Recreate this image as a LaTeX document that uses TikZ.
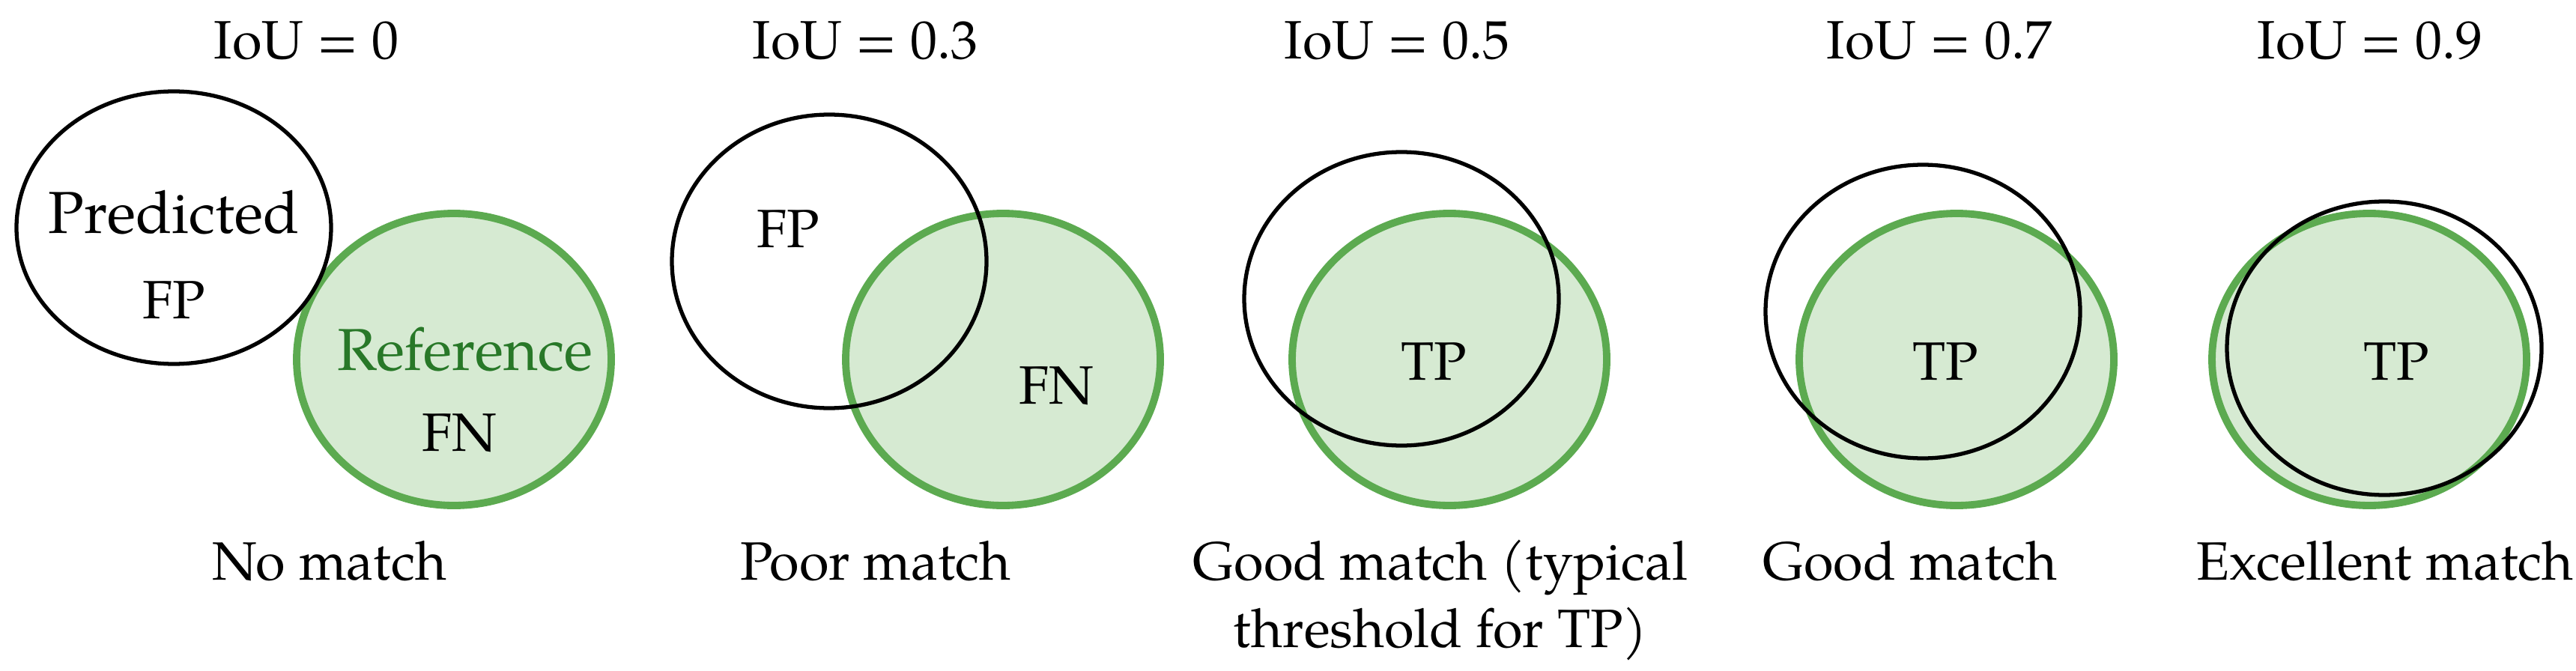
\documentclass[tikz,border=0pt]{standalone}
\usepackage{fontspec}
\setmainfont{TeX Gyre Pagella}
\usepackage{tikz}
\usetikzlibrary{shapes.geometric}
\definecolor{refgreen}{RGB}{92,170,80}
\definecolor{reffill}{RGB}{214,234,210}
\definecolor{reftext}{RGB}{40,120,40}

\begin{document}
\begin{tikzpicture}[
    lbl/.style={anchor=base, inner sep=0pt, font=\fontsize{20.5}{25.6}\selectfont},
    biglbl/.style={anchor=base, inner sep=0pt, font=\fontsize{22.5}{27}\selectfont},
    predbox/.style={draw, ellipse, line width=1.5pt, inner sep=0pt,
                    minimum width=4.2cm, minimum height=3.92cm},
    refbox/.style={draw=refgreen, fill=reffill, ellipse, line width=2.8pt, inner sep=0pt,
                   minimum width=4.2cm, minimum height=3.9cm}]
    \useasboundingbox (0,0) rectangle (34.39,-8.95);

    % IoU = 0
    \node[refbox] (ref1) at (6.06,-4.80) {};
    \node[predbox, minimum height=3.64cm] (pred1) at (2.32,-3.04) {};
    \node[lbl] (iou1) at (4.09,-0.79) {IoU = 0};
    \node[biglbl] (pname1) at (2.32,-3.11) {Predicted};
    \node[lbl] (fp1) at (2.32,-4.25) {FP};
    \node[biglbl, text=reftext] (rname1) at (6.21,-4.94) {Reference};
    \node[lbl] (fn1) at (6.13,-6.02) {FN};
    \node[lbl] (cap1) at (4.40,-7.74) {No match};

    % IoU = 0.3
    \node[refbox] (ref2) at (13.39,-4.80) {};
    \node[predbox] (pred2) at (11.07,-3.49) {};
    \node[lbl] (iou2) at (11.55,-0.79) {IoU = 0.3};
    \node[lbl] (fp2) at (10.52,-3.30) {FP};
    \node[lbl] (fn2) at (14.10,-5.39) {FN};
    \node[lbl] (cap2) at (11.69,-7.74) {Poor match};

    % IoU = 0.5
    \node[refbox] (ref3) at (19.35,-4.80) {};
    \node[predbox] (pred3) at (18.71,-3.99) {};
    \node[lbl] (iou3) at (18.65,-0.79) {IoU = 0.5};
    \node[lbl] (tp3) at (19.14,-5.07) {TP};
    \node[lbl, align=center] (cap3) at (19.23,-8.64) {Good match (typical\\threshold for TP)};

    % IoU = 0.7
    \node[refbox] (ref4) at (26.12,-4.80) {};
    \node[predbox] (pred4) at (25.67,-4.16) {};
    \node[lbl] (iou4) at (25.89,-0.79) {IoU = 0.7};
    \node[lbl] (tp4) at (25.97,-5.07) {TP};
    \node[lbl] (cap4) at (25.50,-7.74) {Good match};

    % IoU = 0.9
    \node[refbox] (ref5) at (31.63,-4.80) {};
    \node[predbox] (pred5) at (31.83,-4.65) {};
    \node[lbl] (iou5) at (31.64,-0.79) {IoU = 0.9};
    \node[lbl] (tp5) at (31.99,-5.07) {TP};
    \node[lbl] (cap5) at (31.84,-7.74) {Excellent match};
\end{tikzpicture}
\end{document}
